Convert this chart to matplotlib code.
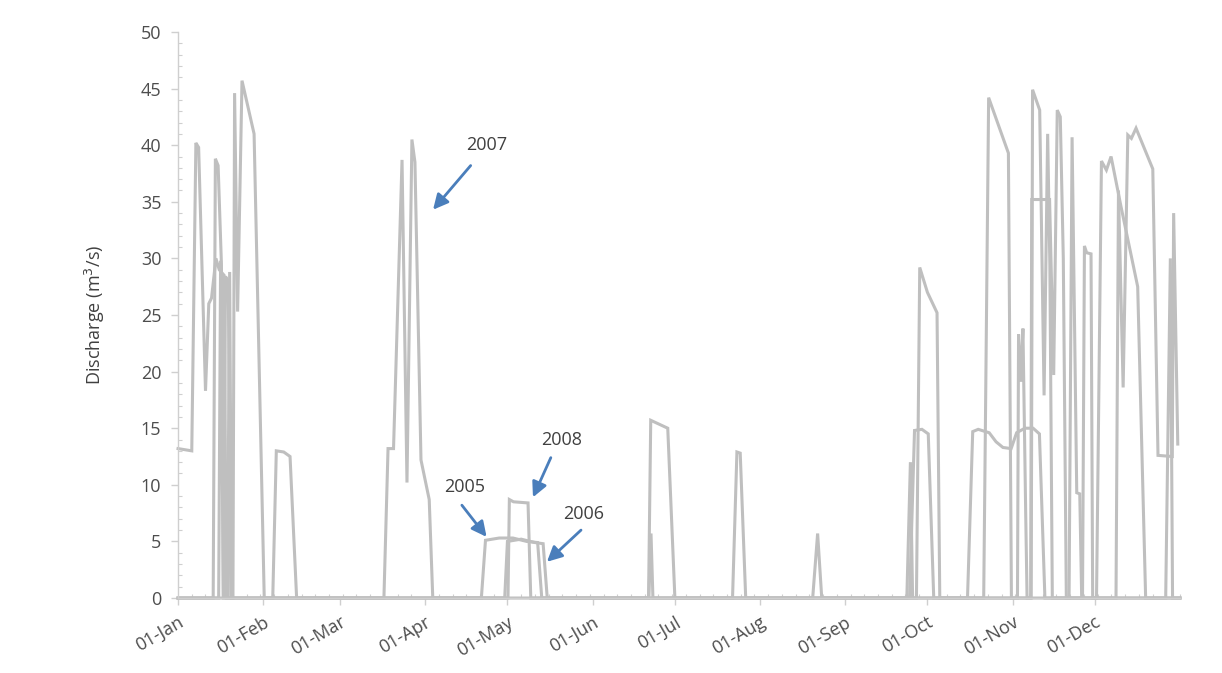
import matplotlib
matplotlib.use("Agg")
import matplotlib.pyplot as plt
from matplotlib.ticker import MultipleLocator, FixedLocator

# daily discharge, day of year (0 = 01-Jan) and m3/s, one list per year
days_2005 = [0, 5, 6.5, 7.5, 10, 11.2, 12.2, 13.8, 15, 16.8, 17.6, 20, 20.6, 21.7, 23.3, 27.7, 31.4,
             110.5, 112, 117, 122, 127, 131, 132.5,
             171.4, 172.2, 178.4, 181,
             266.5, 268.3, 271, 273.3, 275.3,
             287.6, 289.5, 291.5, 295.5, 298, 300.5, 303.5, 305.5, 308.5, 311.5, 313.8, 315.8,
             329.5, 330.2, 331, 332.6, 333.2, 365]
flow_2005 = [13.2, 13.0, 40.2, 39.8, 18.3, 26.0, 26.5, 30.0, 29.0, 28.5, 0, 0, 44.6, 25.3, 45.7, 41.0, 0,
             0, 5.1, 5.3, 5.3, 5.0, 4.9, 0,
             0, 15.7, 15.0, 0,
             0, 14.8, 14.9, 14.5, 0,
             0, 14.7, 14.9, 14.6, 13.8, 13.3, 13.2, 14.6, 15.0, 15.0, 14.5, 0,
             0, 31.1, 30.5, 30.4, 0, 0]

days_2006 = [0, 12.8, 13.6, 14.6, 15.8, 16.5, 17.3, 18.3, 19.2,
             119, 120, 125, 130, 133, 134.5,
             171.5, 172.3, 173,
             269, 270.2, 273, 276.5, 277.5,
             293.5, 295.3, 300, 302.5, 303.6, 305.8, 306.2, 307, 307.8, 308.8, 309.3,
             341.7, 342.6, 344.3, 346, 347.3, 349, 355.1, 357, 362.2, 362.7, 364.2]
flow_2006 = [0, 0, 38.8, 38.2, 29.5, 0, 28.4, 28.0, 0,
             0, 5.0, 5.2, 4.9, 4.8, 0,
             0, 5.7, 0,
             0, 29.2, 27.0, 25.2, 0,
             0, 44.2, 41.0, 39.3, 0, 0, 23.3, 19.1, 23.8, 7.5, 0,
             0, 36.0, 18.6, 40.9, 40.6, 41.5, 37.9, 12.6, 12.5, 34.0, 13.6]

days_2007 = [0, 14.8, 15.5, 16.5, 18, 18.8, 19.5,
             75, 76.5, 78.5, 81.6, 83.4, 85.2, 86.3, 88.5, 91.5, 92.8,
             202, 203.6, 204.8, 206.8,
             310.8, 311.3, 313.9, 315.5, 316.8, 317.6, 318.5,
             324.6, 325.7, 327.4, 328.5, 329.2,
             334.6, 336.4, 338.2, 339.9, 343.5, 349.6, 352.5, 365]
flow_2007 = [0, 0, 29.8, 0, 0, 28.8, 0,
             0, 13.2, 13.2, 38.7, 10.2, 40.5, 38.5, 12.2, 8.7, 0,
             0, 12.9, 12.8, 0,
             0, 44.9, 43.1, 17.9, 41.0, 29.5, 0,
             0, 40.7, 9.3, 9.2, 0,
             0, 38.6, 37.8, 39.0, 34.6, 27.5, 0, 0]

days_2008 = [0, 34.5, 35.8, 38.5, 40.8, 43.2,
             120.2, 120.7, 122.2, 127.5, 128.5,
             231.2, 233, 234.5,
             265.5, 266.8, 267.6,
             310.6, 311.0, 317.5, 319.0, 320.3, 321.4, 322.5, 323.6,
             359.8, 361.5, 362.3, 365]
flow_2008 = [0, 0, 13.0, 12.9, 12.5, 0,
             0, 8.7, 8.5, 8.4, 0,
             0, 5.7, 0,
             0, 12.0, 0,
             0, 35.2, 35.2, 19.7, 43.1, 42.5, 30.0, 0,
             0, 30.0, 0, 0]

month_starts = [0, 31, 59, 90, 120, 151, 181, 212, 243, 273, 304, 334]
month_labels = ["01-Jan", "01-Feb", "01-Mar", "01-Apr", "01-May", "01-Jun",
                "01-Jul", "01-Aug", "01-Sep", "01-Oct", "01-Nov", "01-Dec"]

# year label: text centre, arrow tail, arrow tip (day, flow)
notes = [
    ("2007", (112.5, 40.0), (106.6, 38.2), (92.9, 34.3)),
    ("2005", (104.5, 9.8), (103.4, 8.2), (112.4, 5.4)),
    ("2008", (139.8, 14.0), (135.8, 12.4), (129.3, 8.9)),
    ("2006", (147.8, 7.4), (146.8, 6.0), (134.4, 3.2)),
]

plt.rcParams["font.family"] = ["Open Sans", "DejaVu Sans"]
text_col = "#4d4d4d"
line_col = "#bfbfbf"
axis_col = "#cfcfcf"

fig = plt.figure(figsize=(12.22, 6.73), dpi=100)
ax = fig.add_axes([0.1457, 0.1114, 0.8199, 0.8411])

for d, q in [(days_2005, flow_2005), (days_2006, flow_2006),
             (days_2007, flow_2007), (days_2008, flow_2008)]:
    ax.plot(d, q, color=line_col, lw=2.2, solid_joinstyle="miter", clip_on=False)

ax.set_xlim(0, 365)
ax.set_ylim(0, 50)

ax.xaxis.set_major_locator(FixedLocator(month_starts))
ax.set_xticklabels(month_labels, rotation=30, ha="right", va="top",
                   rotation_mode="anchor")
ax.xaxis.set_minor_locator(MultipleLocator(5))
ax.yaxis.set_major_locator(MultipleLocator(5))
ax.yaxis.set_minor_locator(MultipleLocator(1))

ax.tick_params(axis="both", which="major", colors=axis_col, labelcolor=text_col,
               labelsize=13, direction="out", length=5, width=1)
ax.tick_params(axis="both", which="minor", colors=axis_col, direction="in",
               length=3, width=0.8)
ax.tick_params(axis="y", which="major", pad=7)
ax.tick_params(axis="x", which="major", pad=6)

for side in ["top", "right"]:
    ax.spines[side].set_visible(False)
for side in ["left", "bottom"]:
    ax.spines[side].set_color(axis_col)
    ax.spines[side].set_linewidth(1)

ax.set_ylabel("Discharge (m$^3$/s)", color="#404040", fontsize=13, labelpad=24)

for label, xy_text, xy_tail, xy_tip in notes:
    ax.text(*xy_text, label, fontsize=13, color="#404040", ha="center", va="center")
    ax.annotate("", xy=xy_tip, xytext=xy_tail,
                arrowprops=dict(arrowstyle="-|>,head_length=0.9,head_width=0.45",
                                color="#4a7ebb", lw=2.0, shrinkA=0, shrinkB=0))

fig.savefig("out.png", dpi=100, facecolor="white")
